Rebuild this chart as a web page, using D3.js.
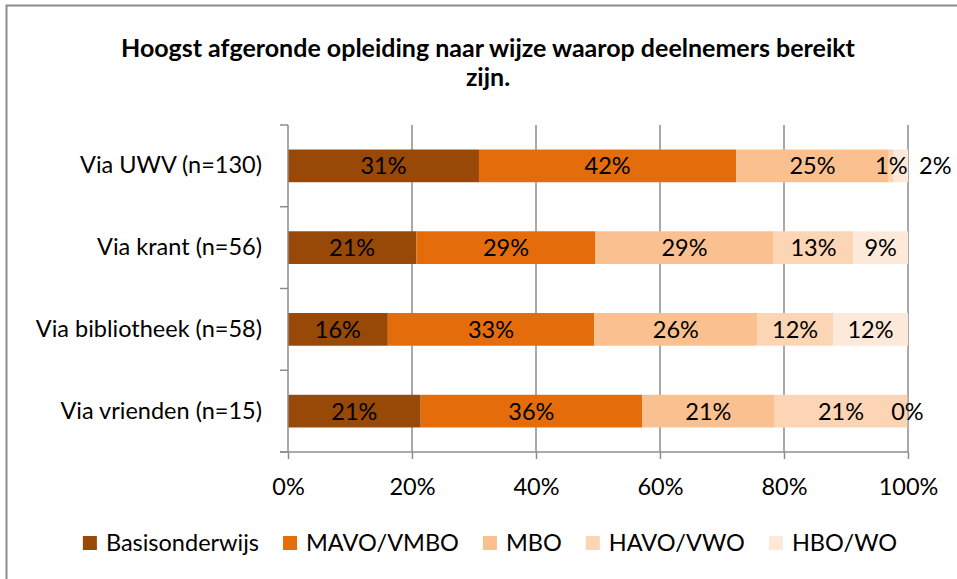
<!DOCTYPE html>
<html>
<head>
<meta charset="utf-8">
<script src="https://cdn.jsdelivr.net/npm/d3@7"></script>
<style>
  body { margin: 0; background: #fff; }
  svg { display: block; font-family: Lato, "Noto Sans", sans-serif; }
</style>
</head>
<body>
<div id="chart"></div>
<script>
"use strict";
// data (percent of respondents)
const categories = ["Via UWV (n=130)", "Via krant (n=56)", "Via bibliotheek (n=58)", "Via vrienden (n=15)"];
const seriesNames = ["Basisonderwijs", "MAVO/VMBO", "MBO", "HAVO/VWO", "HBO/WO"];
const basisonderwijs = [30.8, 20.7, 16.1, 21.4];
const mavoVmbo = [41.5, 28.9, 33.3, 35.7];
const mbo = [24.6, 28.7, 26.3, 21.4];
const havoVwo = [0.8, 12.9, 12.2, 21.4];
const hboWo = [2.3, 8.8, 12.1, 0];
const xTicks = [0, 20, 40, 60, 80, 100];
const titleLines = ["Hoogst afgeronde opleiding naar wijze waarop deelnemers bereikt", "zijn."];

const colors = ["#984807", "#E46C0A", "#FAC090", "#FCD5B5", "#FDE9D9"];
const width = 957, height = 579;
const fontSize = "23.5px";

const svg = d3.select("#chart")
  .append("svg")
  .attr("width", width)
  .attr("height", height);

// outer frame (only top and left edges show in the picture)
svg.append("rect")
  .attr("x", 6.5)
  .attr("y", 5.5)
  .attr("width", 1000)
  .attr("height", 1000)
  .attr("fill", "none")
  .attr("stroke", "#8c8c8c")
  .attr("stroke-width", 2);

const table = categories.map((c, i) => ({
  category: c,
  [seriesNames[0]]: basisonderwijs[i],
  [seriesNames[1]]: mavoVmbo[i],
  [seriesNames[2]]: mbo[i],
  [seriesNames[3]]: havoVwo[i],
  [seriesNames[4]]: hboWo[i]
}));

const stacked = d3.stack().keys(seriesNames)(table);

const x = d3.scaleLinear().domain([0, 100]).range([288, 908]);
const y = d3.scaleBand()
  .domain(categories)
  .range([125, 452])
  .paddingInner(0.6)
  .paddingOuter(0.3);
const color = d3.scaleOrdinal().domain(seriesNames).range(colors);

// title
svg.append("text")
  .attr("x", 488)
  .attr("y", 57)
  .attr("text-anchor", "middle")
  .style("font-size", "25px")
  .style("font-weight", "bold")
  .selectAll("tspan")
  .data(titleLines)
  .join("tspan")
  .attr("x", 488)
  .attr("dy", (d, i) => i === 0 ? 0 : 29)
  .text(d => d);

// vertical gridlines + x axis
const xAxis = d3.axisBottom(x)
  .tickValues(xTicks)
  .tickSize(7)
  .tickPadding(19)
  .tickFormat(d => d + "%");

svg.append("g")
  .selectAll("line")
  .data(xTicks.filter(d => d > 0))
  .join("line")
  .attr("x1", d => x(d))
  .attr("x2", d => x(d))
  .attr("y1", 125)
  .attr("y2", 452)
  .attr("stroke", "#8c8c8c")
  .attr("stroke-width", 1.5);

const gx = svg.append("g")
  .attr("transform", "translate(0,452)")
  .call(xAxis);
gx.select(".domain").remove();
gx.selectAll(".tick line").attr("stroke", "#8c8c8c").attr("stroke-width", 1.5);
gx.selectAll(".tick text")
  .attr("fill", "#000")
  .style("font-size", fontSize)
  .style("font-family", "Lato, sans-serif");
gx.append("line")
  .attr("x1", 280)
  .attr("x2", 908)
  .attr("stroke", "#8c8c8c")
  .attr("stroke-width", 1.5);

// bars
const layer = svg.append("g")
  .selectAll("g")
  .data(stacked)
  .join("g")
  .attr("fill", d => color(d.key));

layer.selectAll("rect")
  .data(d => d)
  .join("rect")
  .attr("x", d => x(d[0]))
  .attr("y", d => y(d.data.category))
  .attr("width", d => x(d[1]) - x(d[0]))
  .attr("height", y.bandwidth());

// value labels, nudged right when they would collide
const labels = [];
categories.forEach((c, ci) => {
  let prev = -Infinity;
  stacked.forEach(s => {
    const d = s[ci];
    let cx = (x(d[0]) + x(d[1])) / 2;
    if (cx - prev < 30) cx = prev + 44;
    prev = cx;
    labels.push({ cx, cy: y(c) + y.bandwidth() / 2, text: Math.round(d[1] - d[0]) + "%" });
  });
});

svg.append("g")
  .selectAll("text")
  .data(labels)
  .join("text")
  .attr("x", d => d.cx)
  .attr("y", d => d.cy)
  .attr("dy", "0.36em")
  .attr("text-anchor", "middle")
  .style("font-size", fontSize)
  .text(d => d.text);

// category axis
const gy = svg.append("g")
  .attr("transform", "translate(288,0)")
  .call(d3.axisLeft(y).tickSize(0).tickPadding(26));
gy.select(".domain")
  .attr("stroke", "#8c8c8c")
  .attr("stroke-width", 1.5)
  .attr("d", "M0,125V452");
gy.selectAll(".tick text")
  .attr("fill", "#000")
  .style("font-size", fontSize)
  .style("font-family", "Lato, sans-serif");

const bounds = d3.range(categories.length + 1).map(i => 125 + i * y.step());
gy.selectAll(".bound")
  .data(bounds)
  .join("line")
  .attr("class", "bound")
  .attr("x1", -8)
  .attr("x2", 0)
  .attr("y1", d => d)
  .attr("y2", d => d)
  .attr("stroke", "#8c8c8c")
  .attr("stroke-width", 1.5);

// legend
const legend = svg.append("g");
const items = legend.selectAll("g")
  .data(seriesNames)
  .join("g");
items.append("rect")
  .attr("width", 14)
  .attr("height", 14)
  .attr("y", -7)
  .attr("fill", d => color(d));
items.append("text")
  .attr("x", 23)
  .attr("dy", "0.36em")
  .style("font-size", fontSize)
  .text(d => d);

let lx = 0;
const offsets = [];
items.each(function () {
  offsets.push(lx);
  lx += this.getBBox().width + 24;
});
const legendWidth = lx - 24;
items.attr("transform", (d, i) => `translate(${490 - legendWidth / 2 + offsets[i]},543)`);
</script>
</body>
</html>
